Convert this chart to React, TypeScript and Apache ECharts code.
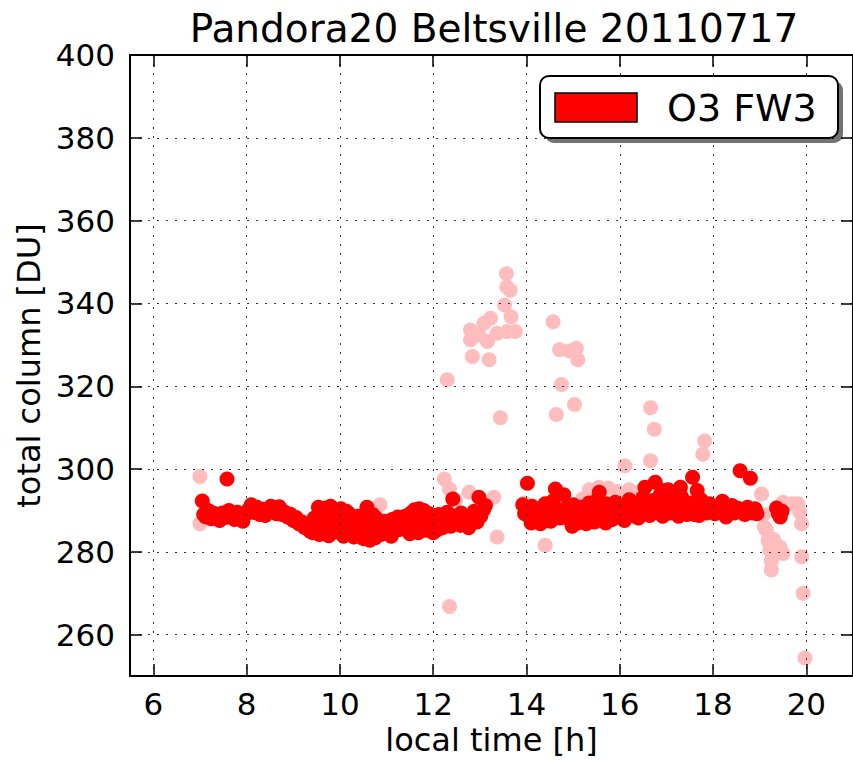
import React, { useEffect, useRef } from "react";
import * as echarts from "echarts";

const TITLE = "Pandora20 Beltsville 20110717";
const X_NAME = "local time [h]";
const Y_NAME = "total column [DU]";
const LEGEND_LABEL = "O3 FW3";

const X_MIN = 5.5;
const X_MAX = 21;
const Y_MIN = 250;
const Y_MAX = 400;

// good-quality retrievals (red)
const redTime = [
  7.05, 7.08, 7.12, 7.18, 7.24, 7.3, 7.36, 7.42, 7.48, 7.58, 7.55, 7.62, 7.68, 7.74, 7.8, 7.86, 7.92, 7.98,
  8.04, 8.1, 8.16, 8.22, 8.28, 8.34, 8.4, 8.46, 8.52, 8.58, 8.64, 8.7, 8.76, 8.82, 8.88, 8.94,
  9.0, 9.06, 9.12, 9.18, 9.24, 9.3, 9.36, 9.42, 9.48, 9.54, 9.56, 9.6, 9.62, 9.66, 9.7, 9.72, 9.76, 9.8, 9.82, 9.86, 9.9, 9.94, 9.98,
  10.02, 10.06, 10.1, 10.14, 10.18, 10.22, 10.26, 10.3, 10.34, 10.38, 10.42, 10.46, 10.5, 10.54, 10.58, 10.6, 10.64, 10.68, 10.72, 10.76, 10.8, 10.84, 10.88, 10.92, 10.96,
  11.0, 11.04, 11.08, 11.12, 11.16, 11.2, 11.24, 11.28, 11.32, 11.36, 11.4, 11.44, 11.48, 11.52, 11.56, 11.6, 11.64, 11.68, 11.72, 11.76, 11.8, 11.84, 11.88, 11.92, 11.96,
  12.0, 12.04, 12.08, 12.12, 12.16, 12.2, 12.26, 12.32, 12.38, 12.42, 12.46, 12.52, 12.58, 12.64, 12.7, 12.76, 12.82, 12.88, 12.94, 12.98,
  13.02, 13.08, 13.12, 13.92, 13.96,
  14.02, 14.04, 14.08, 14.12, 14.16, 14.22, 14.28, 14.34, 14.4, 14.46, 14.52, 14.56, 14.62, 14.66, 14.72, 14.8, 14.86, 14.92, 14.98,
  15.04, 15.1, 15.16, 15.22, 15.28, 15.34, 15.4, 15.46, 15.52, 15.56, 15.6, 15.66, 15.72, 15.78, 15.84, 15.9, 15.96,
  16.02, 16.08, 16.14, 16.2, 16.26, 16.32, 16.38, 16.44, 16.5, 16.54, 16.58, 16.64, 16.7, 16.76, 16.8, 16.86, 16.92, 16.98,
  17.04, 17.08, 17.14, 17.2, 17.26, 17.32, 17.38, 17.44, 17.5, 17.56, 17.6, 17.66, 17.7, 17.74, 17.8, 17.86, 17.92, 17.98,
  18.04, 18.1, 18.16, 18.22, 18.28, 18.34, 18.4, 18.46, 18.52, 18.58, 18.62, 18.68, 18.74, 18.8, 18.84, 18.9, 18.94,
  19.36, 19.4, 19.44, 19.48,
  9.45, 9.58, 9.68, 9.78, 9.88, 10.08, 10.2, 10.4, 10.52, 10.7, 10.78, 11.1, 11.5, 11.7, 11.86, 12.1, 12.3, 12.6,
  14.1, 14.3, 14.5, 15.0, 15.3, 15.7, 16.1, 16.4, 16.9, 17.1, 17.3, 17.6, 18.2, 18.7,
];
const redO3 = [
  292.3, 289.0, 288.5, 290.0, 288.0, 289.3, 288.6, 287.6, 289.4, 297.6, 288.3, 290.0, 288.9, 287.8, 289.6, 288.2, 287.4, 289.1,
  290.2, 291.4, 289.5, 290.8, 289.0, 290.3, 288.8, 290.1, 291.0, 290.6, 289.2, 290.9, 289.0, 289.6, 288.4, 289.1,
  287.6, 288.3, 286.8, 287.3, 285.9, 286.4, 285.0, 284.6, 285.5, 290.8, 284.2, 286.8, 288.4, 284.6, 290.6, 286.0, 283.9, 291.0, 287.5, 285.2, 289.6, 284.8, 288.6,
  290.4, 287.0, 285.6, 289.8, 287.8, 284.4, 286.2, 283.6, 285.0, 287.2, 284.0, 286.4, 283.2, 285.8, 290.8, 288.4, 282.8, 284.8, 287.0, 283.4, 285.6, 286.8, 284.2, 285.9, 287.4,
  284.8, 286.6, 285.4, 287.8, 285.0, 286.9, 288.4, 285.4, 287.2, 286.0, 288.6, 285.8, 287.6, 289.4, 285.6, 290.2, 287.4, 284.6, 288.8, 286.2, 290.0, 285.2, 287.8, 289.2, 286.0,
  284.6, 288.0, 286.6, 289.0, 287.4, 285.8, 288.2, 287.0, 286.2, 292.8, 288.6, 287.2, 286.4, 288.0, 287.0, 285.8, 288.4, 289.8, 287.2, 293.2,
  288.6, 290.2, 291.2, 291.4, 289.2,
  296.6, 290.6, 288.2, 291.0, 289.0, 287.6, 290.2, 288.4, 291.6, 289.6, 287.4, 292.2, 295.2, 290.4, 288.2, 293.8, 290.6, 287.8, 286.2,
  289.6, 287.0, 290.8, 288.6, 286.8, 291.8, 289.0, 287.2, 292.6, 294.4, 290.2, 288.4, 291.6, 289.6, 287.8, 292.0, 290.4,
  288.8, 291.2, 289.6, 292.6, 290.4, 288.6, 291.8, 289.8, 293.2, 295.6, 290.6, 288.8, 292.4, 296.8, 290.0, 293.6, 288.6, 291.6,
  295.0, 289.4, 292.8, 290.4, 288.6, 293.4, 290.6, 289.0, 291.8, 298.0, 290.2, 294.8, 288.8, 292.6, 290.6, 289.4, 291.6, 290.0,
  289.2, 290.6, 291.4, 289.6, 288.4, 290.4, 291.2, 289.4, 290.6, 299.6, 290.0, 289.0, 290.8, 297.8, 289.4, 290.4, 289.2,
  290.6, 289.2, 288.4, 289.8,
  288.2, 289.8, 285.4, 288.8, 286.6, 283.8, 289.2, 288.6, 287.6, 289.0, 288.2, 283.8, 284.4, 290.4, 288.8, 285.4, 289.6, 289.4,
  287.0, 286.8, 290.8, 291.4, 289.4, 287.0, 287.6, 288.2, 294.8, 290.8, 295.6, 289.0, 292.2, 289.2,
];

// filtered retrievals (pink)
const pinkTime = [
  7.0, 7.0, 10.86, 12.24, 12.3, 12.35, 12.35, 12.48, 12.77, 12.8, 12.8, 12.84, 12.98, 13.09, 13.16, 13.2, 13.23,
  13.3, 13.37, 13.37, 13.44, 13.53, 13.57, 13.58, 13.58, 13.65, 13.67, 13.76, 13.95, 14.4, 14.57, 14.64, 14.71,
  14.75, 14.92, 15.03, 15.07, 15.1, 15.2, 15.35, 15.55, 15.75, 15.95, 16.11, 16.2, 16.4, 16.66, 16.74, 16.66,
  17.78, 17.82, 19.04, 19.08, 19.1, 19.14, 19.18, 19.22, 19.25, 19.25, 19.3, 19.43, 19.5, 19.5, 19.7, 19.82,
  19.86, 19.9, 19.9, 19.93, 19.97,
];
const pinkO3 = [
  298.2, 286.8, 291.4, 297.6, 321.6, 266.8, 295.2, 292.4, 294.4, 333.6, 331.2, 327.2, 332.4, 335.2, 330.8, 326.4, 336.4,
  293.2, 283.6, 332.8, 312.4, 339.6, 347.2, 344.0, 333.2, 343.2, 336.8, 333.2, 291.8, 281.6, 335.6, 313.2, 328.8,
  320.4, 328.5, 315.6, 329.2, 326.4, 292.8, 295.0, 295.6, 295.4, 294.6, 300.8, 295.0, 294.4, 314.8, 309.6, 302.0,
  303.6, 306.8, 294.0, 289.0, 286.0, 285.3, 282.6, 280.4, 275.6, 277.8, 283.0, 281.2, 279.6, 292.0, 291.6, 291.6,
  289.6, 286.8, 278.8, 270.0, 254.4,
];

const FONT = "DejaVu Sans";

export default function App() {
  const ref = useRef<HTMLDivElement>(null);

  useEffect(() => {
    if (!ref.current) return;
    const chart = echarts.init(ref.current, null, { renderer: "svg" });

    const redData = redTime.map((t, i) => [t, redO3[i]]);
    const pinkData = pinkTime.map((t, i) => [t, pinkO3[i]]);

    const tickCommon = { show: true, inside: true, length: 12, lineStyle: { color: "#000", width: 1.5 } };
    const axisLineCommon = { show: true, onZero: false, lineStyle: { color: "#000", width: 2 } };
    const splitLineCommon = { show: true, lineStyle: { color: "#333", width: 1, type: [2, 7] as any } };

    chart.setOption({
      animation: false,
      backgroundColor: "#ffffff",
      grid: { left: 130, top: 55, right: -5, bottom: 81, containLabel: false },
      xAxis: [
        {
          type: "value",
          position: "bottom",
          min: X_MIN,
          max: X_MAX,
          splitNumber: 8,
          z: 5,
          name: X_NAME,
          nameLocation: "middle",
          nameGap: 44,
          nameTextStyle: { fontFamily: FONT, fontSize: 32, color: "#000" },
          axisLine: axisLineCommon,
          axisTick: tickCommon,
          axisLabel: { fontFamily: FONT, fontSize: 31, color: "#000", margin: 12, showMinLabel: false, showMaxLabel: false },
          splitLine: splitLineCommon,
        },
        {
          type: "value",
          position: "top",
          min: X_MIN,
          max: X_MAX,
          splitNumber: 8,
          z: 5,
          axisLine: axisLineCommon,
          axisTick: tickCommon,
          axisLabel: { show: false },
          splitLine: { show: false },
        },
      ],
      yAxis: [
        {
          type: "value",
          position: "left",
          min: Y_MIN,
          max: Y_MAX,
          splitNumber: 7,
          z: 5,
          name: Y_NAME,
          nameLocation: "middle",
          nameGap: 82,
          nameTextStyle: { fontFamily: FONT, fontSize: 32, color: "#000" },
          axisLine: axisLineCommon,
          axisTick: tickCommon,
          axisLabel: { fontFamily: FONT, fontSize: 31, color: "#000", margin: 15, showMinLabel: false },
          splitLine: splitLineCommon,
        },
        {
          type: "value",
          position: "right",
          min: Y_MIN,
          max: Y_MAX,
          splitNumber: 7,
          z: 5,
          axisLine: axisLineCommon,
          axisTick: tickCommon,
          axisLabel: { show: false },
          splitLine: { show: false },
        },
      ],
      series: [
        {
          type: "scatter",
          name: "filtered",
          data: pinkData,
          symbol: "circle",
          symbolSize: 15,
          itemStyle: { color: "#ffbcbc", opacity: 1 },
          z: 2,
          silent: true,
        },
        {
          type: "scatter",
          name: LEGEND_LABEL,
          data: redData,
          symbol: "circle",
          symbolSize: 15,
          itemStyle: { color: "#ff0000", opacity: 1 },
          z: 3,
          silent: true,
        },
      ],
      graphic: [
        {
          type: "text",
          x: 494,
          y: 28,
          style: {
            text: TITLE,
            fontFamily: FONT,
            fontSize: 39,
            fill: "#000",
            align: "center",
            verticalAlign: "middle",
          },
        },
        {
          type: "rect",
          shape: { x: 545, y: 81, width: 298, height: 62, r: 9 },
          style: { fill: "rgba(0,0,0,0.55)" },
          z: 100,
        },
        {
          type: "rect",
          shape: { x: 540, y: 76, width: 298, height: 62, r: 9 },
          style: { fill: "#fff", stroke: "#000", lineWidth: 2 },
          z: 101,
        },
        {
          type: "rect",
          shape: { x: 555, y: 93, width: 82, height: 29 },
          style: { fill: "#ff0000", stroke: "#000", lineWidth: 1.5 },
          z: 102,
        },
        {
          type: "text",
          x: 667,
          y: 108,
          z: 102,
          style: {
            text: LEGEND_LABEL,
            fontFamily: FONT,
            fontSize: 38,
            fill: "#000",
            align: "left",
            verticalAlign: "middle",
          },
        },
      ],
    });

    return () => chart.dispose();
  }, []);

  return (
    <div
      ref={ref}
      style={{ position: "fixed", left: 0, top: 0, width: 853, height: 761, background: "#fff" }}
    />
  );
}
